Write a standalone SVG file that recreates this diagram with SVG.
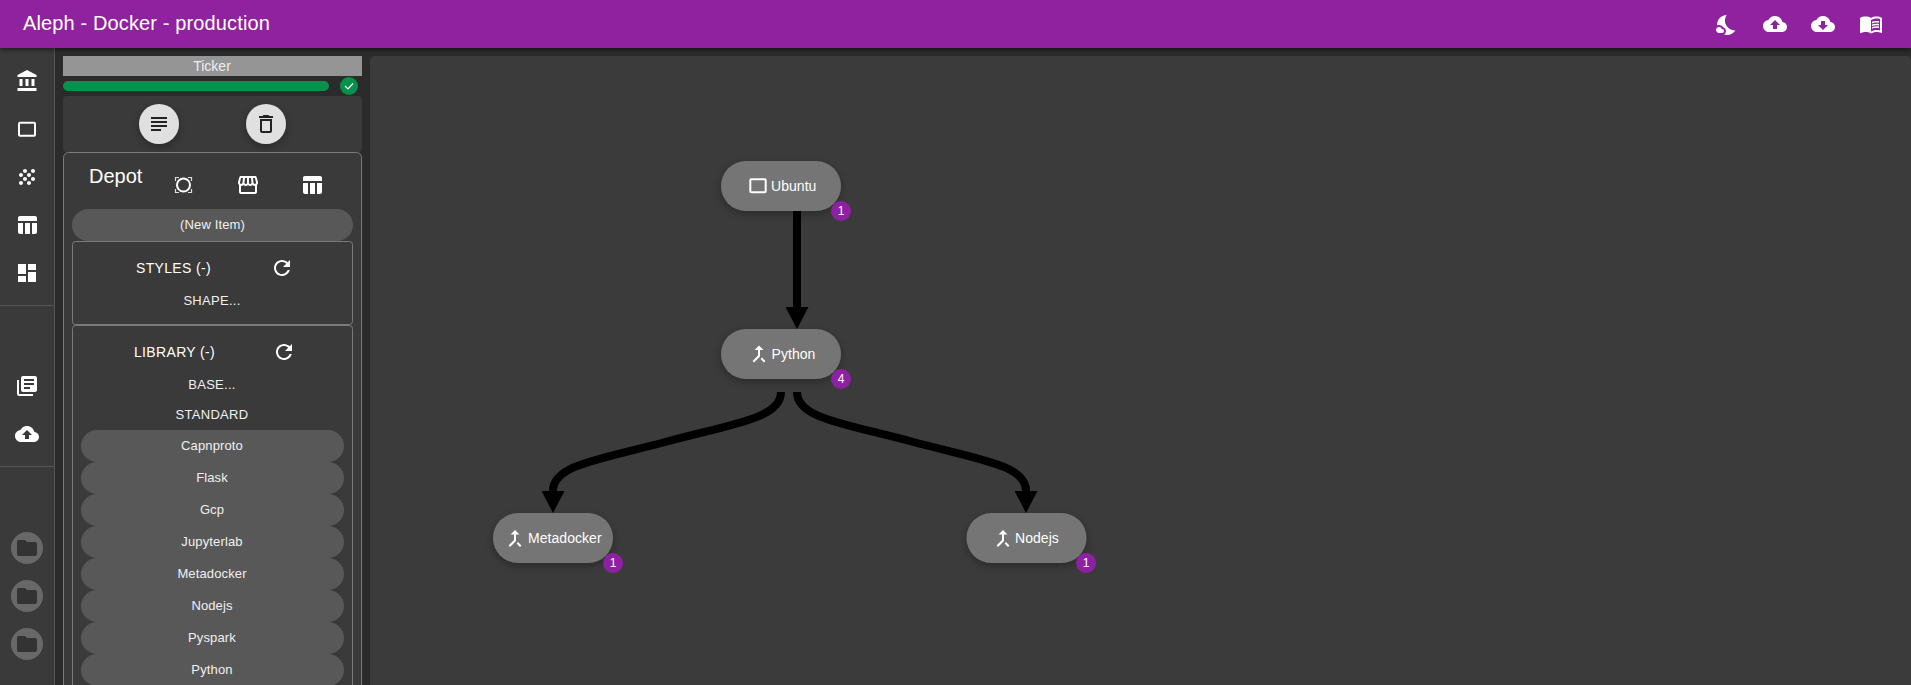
<svg xmlns="http://www.w3.org/2000/svg" width="1911" height="685" viewBox="0 0 1911 685">
<style>
text{font-family:"Liberation Sans",Arial,sans-serif;fill:#fff}
.m{text-anchor:middle}
.t13{font-size:13px;fill:#f0f0f0;letter-spacing:.13px}
.t14{font-size:14px;letter-spacing:.35px}
.sp{letter-spacing:.28px}
.pill{fill:#585858}
.box{fill:none;stroke:#7a7a7a;stroke-width:1}
.w{fill:#fff}
.sq{fill:none;stroke:#fff;stroke-width:2}
.node{fill:#757575;filter:url(#sh)}
.badge{fill:#8e20a4}
.bt{font-size:12px;text-anchor:middle}
.nt{font-size:14px;letter-spacing:.05px}
.edge{fill:none;stroke:#000;stroke-width:8}
.f{fill:#333}
</style>
<defs>
<filter id="sh" x="-30%" y="-50%" width="160%" height="220%"><feDropShadow dx="0" dy="3" stdDeviation="5" flood-color="#000" flood-opacity=".3"/></filter>
<filter id="hs" x="-5%" y="-50%" width="110%" height="220%"><feDropShadow dx="0" dy="2" stdDeviation="2" flood-color="#000" flood-opacity=".5"/></filter>
<marker id="ah" markerUnits="userSpaceOnUse" markerWidth="23" markerHeight="23" refX="0" refY="11.5" orient="auto"><path d="M0 0L22 11.500L0 23z" fill="#000"/></marker>
<path id="merge" d="M17 20.41L18.41 19 15 15.59 13.59 17 17 20.41zM7.5 8H11v5.59L5.59 19 7 20.41l6-6V8h3.5L12 3.5 7.5 8z"/>
<path id="table" d="M10 10.02h5V21h-5zM17 21h3c1.1 0 2-.9 2-2v-9h-5v11zm3-18H5c-1.1 0-2 .9-2 2v3h19V5c0-1.1-.9-2-2-2zM3 19c0 1.1.9 2 2 2h3V10H3v9z"/>
<path id="folder" d="M10 4H4c-1.1 0-1.99.9-1.99 2L2 18c0 1.1.9 2 2 2h16c1.1 0 2-.9 2-2V8c0-1.1-.9-2-2-2h-8l-2-2z"/>
<path id="refresh" d="M17.65 6.35C16.2 4.9 14.21 4 12 4c-4.42 0-7.99 3.58-7.99 8s3.57 8 7.99 8c3.73 0 6.84-2.55 7.73-6h-2.08c-.82 2.33-3.04 4-5.65 4-3.31 0-6-2.69-6-6s2.69-6 6-6c1.66 0 3.14.69 4.22 1.78L13 11h7V4l-2.35 2.35z"/>
<path id="up" d="M19.35 10.04C18.67 6.59 15.64 4 12 4 9.11 4 6.6 5.64 5.35 8.04 2.34 8.36 0 10.91 0 14c0 3.31 2.69 6 6 6h13c2.76 0 5-2.24 5-5 0-2.64-2.05-4.78-4.65-4.96zM14 13v4h-4v-4H7l5-5 5 5h-3z"/>
</defs>
<rect width="1911" height="685" fill="#2b2b2b"/>
<g id="nav">
<rect x="0" y="48" width="54" height="637" fill="#3a3a3a"/>
<rect x="54" y="48" width="1" height="637" fill="#555"/>
<rect x="0" y="305" width="54" height="1" fill="#555"/>
<rect x="0" y="466" width="54" height="1" fill="#555"/>
<path class="w" transform="translate(15.5 69)" d="M4 10v7h3v-7H4zm6 0v7h3v-7h-3zM2 22h19v-3H2v3zm14-12v7h3v-7h-3zm-4.5-9L2 6v2h19V6l-9.5-5z"/>
<rect class="sq" x="19" y="122.700" width="16" height="13" rx="1"/>
<path class="w" transform="translate(15 165)" d="M10 12c-1.1 0-2 .9-2 2s.9 2 2 2 2-.9 2-2-.9-2-2-2zM6 8c-1.1 0-2 .9-2 2s.9 2 2 2 2-.9 2-2-.9-2-2-2zm0 8c-1.1 0-2 .9-2 2s.9 2 2 2 2-.9 2-2-.9-2-2-2zm12-8c1.1 0 2-.9 2-2s-.9-2-2-2-2 .9-2 2 .9 2 2 2zm-4 8c-1.1 0-2 .9-2 2s.9 2 2 2 2-.9 2-2-.9-2-2-2zm4-4c-1.1 0-2 .9-2 2s.9 2 2 2 2-.9 2-2-.9-2-2-2zm-4-4c-1.1 0-2 .9-2 2s.9 2 2 2 2-.9 2-2-.9-2-2-2zm-4-4c-1.1 0-2 .9-2 2s.9 2 2 2 2-.9 2-2-.9-2-2-2z"/>
<use href="#table" class="w" transform="translate(15 213)"/>
<path class="w" transform="translate(15 261)" d="M3 13h8V3H3v10zm0 8h8v-6H3v6zm10 0h8V11h-8v10zm0-18v6h8V3h-8z"/>
<path class="w" transform="translate(15 374)" d="M4 6H2v14c0 1.1.9 2 2 2h14v-2H4V6zm16-4H8c-1.1 0-2 .9-2 2v12c0 1.1.9 2 2 2h12c1.1 0 2-.9 2-2V4c0-1.1-.9-2-2-2zm-1 9H9V9h10v2zm-4 4H9v-2h6v2zm4-8H9V5h10v2z"/>
<use href="#up" class="w" transform="translate(15 422)"/>
<g id="folders">
<circle cx="27" cy="548" r="16" fill="#686868"/><use href="#folder" class="f" transform="translate(15 536)"/>
<circle cx="27" cy="596" r="16" fill="#686868"/><use href="#folder" class="f" transform="translate(15 584)"/>
<circle cx="27" cy="644" r="16" fill="#686868"/><use href="#folder" class="f" transform="translate(15 632)"/>
</g>
</g>
<g id="ticker">
<rect x="63" y="56" width="299" height="20" fill="#959595"/>
<text class="m" x="212" y="71" font-size="14" style="fill:#eee">Ticker</text>
<rect x="63" y="81" width="266" height="10" rx="5" fill="#07914d"/>
<circle cx="349" cy="86" r="9" fill="#07914d"/>
<path d="M345 86l3 3 5-5.500" fill="none" stroke="#fff" stroke-width="1.200"/>
</g>
<g id="toolbar">
<rect x="63" y="96" width="299" height="56" rx="4" fill="#3a3a3a"/>
<g filter="url(#sh)"><circle cx="159" cy="124" r="20" fill="#e0e0e0"/><circle cx="266" cy="124" r="20" fill="#e0e0e0"/></g>
<path fill="#222" transform="translate(147 112)" d="M14 17H4v2h10v-2zm6-8H4v2h16V9zM4 15h16v-2H4v2zM4 5v2h16V5H4z"/>
<path fill="#222" transform="translate(254 112)" d="M6 19c0 1.100.9 2 2 2h8c1.100 0 2-.9 2-2V7H6v12zM8 9h8v10H8V9zm7.500-5l-1-1h-5l-1 1H5v2h14V4z"/>
</g>
<g id="depot">
<rect x="63.500" y="152.500" width="298" height="540" rx="5" fill="#3a3a3a" stroke="#7a7a7a"/>
<text x="89" y="183" font-size="20">Depot</text>
<circle cx="183.500" cy="185" r="6.500" fill="none" stroke="#fff" stroke-width="2"/>
<path d="M175.500 181v-3.500h3.500M188 177.500h3.500v3.500M191.500 189v3.500H188M179 192.500h-3.500V189" fill="none" stroke="#ddd" stroke-width="1.200"/>
<path fill="#fff" transform="translate(236 173)" d="M21.900 8.890l-1.050-4.370c-.22-.9-1-1.520-1.910-1.520H5.050c-.9 0-1.690.63-1.900 1.520L2.100 8.890c-.24 1.020-.02 2.060.62 2.880.08.11.19.19.28.29V19c0 1.100.9 2 2 2h14c1.100 0 2-.9 2-2v-6.940c.09-.09.2-.18.28-.28.64-.82.87-1.870.62-2.890zm-2.990-3.900l1.050 4.370c.1.420.01.840-.25 1.170-.14.180-.44.470-.94.470-.61 0-1.140-.49-1.210-1.140L16.980 5l1.930-.01zM13 5h1.960l.54 4.520c.05.390-.07.780-.33 1.070-.22.260-.54.410-.95.410-.67 0-1.220-.59-1.220-1.310V5zM8.490 9.520L9.040 5H11v4.690c0 .72-.55 1.310-1.290 1.310-.34 0-.65-.15-.89-.41-.25-.29-.37-.68-.33-1.070zm-4.450-.16L5.050 5h1.970l-.58 4.860c-.08.650-.6 1.140-1.210 1.140-.49 0-.8-.29-.93-.47-.27-.32-.36-.75-.26-1.170zM5 19v-6.030c.08.010.15.030.23.030.87 0 1.660-.36 2.240-.95.6.6 1.400.95 2.310.95.870 0 1.650-.36 2.230-.93.59.57 1.390.93 2.290.93.840 0 1.640-.35 2.240-.95.580.59 1.370.95 2.240.95.080 0 .15-.02.23-.03V19H5z"/>
<use href="#table" class="w" transform="translate(300 173)"/>
<rect class="pill" x="72" y="209" width="281" height="32" rx="16"/>
<text class="m t13" x="212.500" y="229">(New Item)</text>
<rect class="box" x="72.500" y="241.500" width="280" height="83" rx="3"/>
<text class="m t14" x="173.500" y="273">STYLES (-)</text>
<use href="#refresh" class="w" transform="translate(270 256)"/>
<text class="m t13 sp" x="212" y="305">SHAPE...</text>
<rect class="box" x="72.500" y="325.500" width="280" height="380" rx="3"/>
<text class="m t14" x="174.500" y="357">LIBRARY (-)</text>
<use href="#refresh" class="w" transform="translate(272 340)"/>
<text class="m t13 sp" x="212" y="389">BASE...</text>
<text class="m t13 sp" x="212" y="419">STANDARD</text>
<g id="library">
<rect class="pill" x="81" y="430" width="263" height="32" rx="16"/>
<rect class="pill" x="81" y="462" width="263" height="32" rx="16"/>
<rect class="pill" x="81" y="494" width="263" height="32" rx="16"/>
<rect class="pill" x="81" y="526" width="263" height="32" rx="16"/>
<rect class="pill" x="81" y="558" width="263" height="32" rx="16"/>
<rect class="pill" x="81" y="590" width="263" height="32" rx="16"/>
<rect class="pill" x="81" y="622" width="263" height="32" rx="16"/>
<rect class="pill" x="81" y="654" width="263" height="32" rx="16"/>
<text class="m t13" x="212" y="450">Capnproto</text>
<text class="m t13" x="212" y="482">Flask</text>
<text class="m t13" x="212" y="514">Gcp</text>
<text class="m t13" x="212" y="546">Jupyterlab</text>
<text class="m t13" x="212" y="578">Metadocker</text>
<text class="m t13" x="212" y="610">Nodejs</text>
<text class="m t13" x="212" y="642">Pyspark</text>
<text class="m t13" x="212" y="674">Python</text>
</g>
</g>
<rect id="canvas" x="370" y="56" width="1541" height="640" rx="5" fill="#3b3b3b"/>
<g id="connectors">
<path class="edge" marker-end="url(#ah)" d="M797 211V307"/>
<path class="edge" marker-end="url(#ah)" d="M781 392C781 418 736 423 667 441.500C598 460 553 465 553 491"/>
<path class="edge" marker-end="url(#ah)" d="M797 392C797 418 842 423 911.500 441.500C981 460 1026 465 1026 491"/>
</g>
<g id="node-ubuntu">
<rect class="node" x="721" y="161" width="120" height="50" rx="25"/>
<rect class="sq" x="750.300" y="179.300" width="15.400" height="13" rx="1"/>
<text class="nt" x="771" y="191">Ubuntu</text>
<circle class="badge" cx="841" cy="211" r="10"/><text class="bt" x="841" y="215">1</text>
</g>
<g id="node-python">
<rect class="node" x="721" y="329" width="120" height="50" rx="25"/>
<use href="#merge" class="w" transform="translate(747 342)"/>
<text class="nt" x="771.500" y="359">Python</text>
<circle class="badge" cx="841" cy="379" r="10"/><text class="bt" x="841" y="383">4</text>
</g>
<g id="node-metadocker">
<rect class="node" x="493" y="513" width="120" height="50" rx="25"/>
<use href="#merge" class="w" transform="translate(503 526.500)"/>
<text class="nt" x="528" y="543">Metadocker</text>
<circle class="badge" cx="613" cy="563" r="10"/><text class="bt" x="613" y="567">1</text>
</g>
<g id="node-nodejs">
<rect class="node" x="966.500" y="513" width="120" height="50" rx="25"/>
<use href="#merge" class="w" transform="translate(991 526.500)"/>
<text class="nt" x="1015" y="543">Nodejs</text>
<circle class="badge" cx="1086" cy="563" r="10"/><text class="bt" x="1086" y="567">1</text>
</g>
<g id="header">
<rect width="1911" height="48" fill="#91219f" filter="url(#hs)"/>
<text x="23" y="30" font-size="20" style="letter-spacing:.13px">Aleph - Docker - production</text>
<g class="w">
<g transform="translate(1715 13)"><path d="M11.100 12.080c-2.330-4.510-.5-8.480.53-10.070C6.270 2.200 1.980 6.590 1.980 12c0 .14.02.28.02.42.62-.27 1.290-.42 2-.42 1.660 0 3.180.83 4.100 2.150C9.770 14.630 11 16.170 11 18c0 1.520-.87 2.830-2.120 3.510.98.32 2.030.5 3.110.5 3.500 0 6.580-1.800 8.370-4.520-2.360.23-6.980-.97-9.260-5.410z"/><path d="M7 16h-.18C6.400 14.840 5.300 14 4 14c-1.660 0-3 1.340-3 3s1.340 3 3 3h3c1.100 0 2-.9 2-2s-.9-2-2-2z"/></g>
<use href="#up" transform="translate(1763 12)"/>
<path transform="translate(1811 12)" d="M19.350 10.040C18.670 6.590 15.640 4 12 4 9.110 4 6.600 5.640 5.350 8.040 2.340 8.360 0 10.910 0 14c0 3.310 2.690 6 6 6h13c2.760 0 5-2.240 5-5 0-2.640-2.050-4.780-4.650-4.960zM17 13l-5 5-5-5h3V9h4v4h3z"/>
<path transform="translate(1859 12)" d="M21 5c-1.110-.35-2.330-.5-3.500-.5-1.950 0-4.050.4-5.500 1.500-1.450-1.100-3.550-1.500-5.500-1.500S2.450 4.900 1 6v14.650c0 .25.25.5.5.5.1 0 .15-.05.25-.05C3.100 20.450 5.050 20 6.500 20c1.950 0 4.050.4 5.500 1.500 1.350-.85 3.800-1.500 5.500-1.500 1.650 0 3.350.3 4.750 1.050.1.050.15.050.25.050.25 0 .5-.25.5-.5V6c-.6-.45-1.250-.75-2-1zm0 13.500c-1.100-.35-2.300-.5-3.500-.5-1.700 0-4.150.65-5.500 1.500V8c1.350-.85 3.800-1.500 5.500-1.500 1.200 0 2.400.15 3.500.5v11.500z"/>
<path transform="translate(1859 12)" d="M17.500 10.500c.88 0 1.730.09 2.500.26V9.240c-.79-.15-1.640-.24-2.500-.24-1.700 0-3.240.29-4.500.83v1.660c1.130-.64 2.700-.99 4.500-.99zM13 12.490v1.660c1.130-.64 2.700-.99 4.500-.99.88 0 1.730.09 2.500.26V11.900c-.79-.15-1.640-.24-2.500-.24-1.700 0-3.240.3-4.500.83zM17.500 14.330c-1.700 0-3.240.29-4.500.83v1.660c1.130-.64 2.700-.99 4.500-.99.88 0 1.730.09 2.500.26v-1.520c-.79-.16-1.640-.24-2.500-.24z"/>
</g>
</g>
</svg>
